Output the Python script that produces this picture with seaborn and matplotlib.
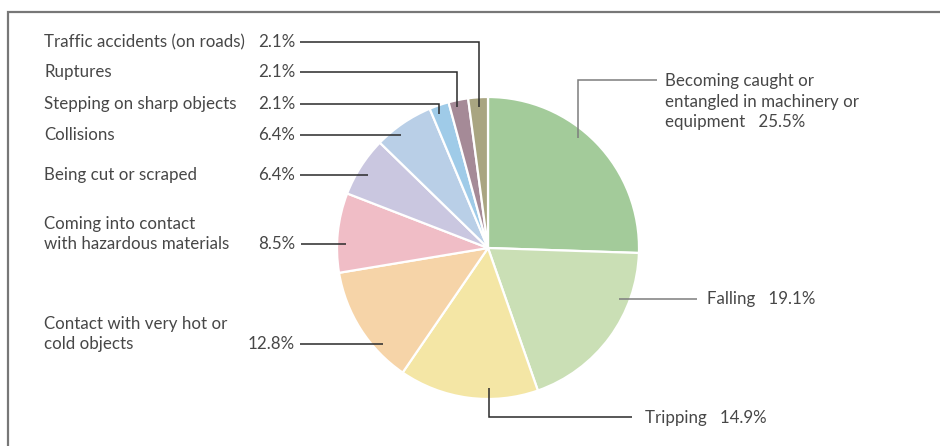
import matplotlib
matplotlib.use("Agg")
import matplotlib.pyplot as plt
import seaborn as sns

# Share of occupational accidents by type (%), clockwise from 12 o'clock
categories = [
    "Becoming caught or entangled in machinery or equipment",
    "Falling",
    "Tripping",
    "Contact with very hot or cold objects",
    "Coming into contact with hazardous materials",
    "Being cut or scraped",
    "Collisions",
    "Stepping on sharp objects",
    "Ruptures",
    "Traffic accidents (on roads)",
]
shares = [25.5, 19.1, 14.9, 12.8, 8.5, 6.4, 6.4, 2.1, 2.1, 2.1]
colors = ["#a3cb9a", "#cadfb5", "#f4e6a5", "#f6d4a8", "#f0bdc6",
          "#cac7e0", "#b9cfe7", "#9fcbe8", "#a58a97", "#a9a581"]

sns.set_theme(style="white")
plt.rcParams["font.family"] = ["Lato", "DejaVu Sans"]

W, H = 940, 446
fig = plt.figure(figsize=(W / 100, H / 100), dpi=100)
ax = fig.add_axes([0, 0, 1, 1])

# Pie in pixel-like coordinates (y grows downwards)
ax.pie(shares, colors=colors, startangle=270, counterclock=True,
       center=(488, 248), radius=151,
       wedgeprops=dict(edgecolor="white", linewidth=1.6))
ax.set_xlim(0, W)
ax.set_ylim(H, 0)
ax.set_aspect("equal")
ax.axis("off")

TXT = "#474747"
FS = 12.2
DARK = "#2a2a2a"
GREY = "#7d7d7d"
STYLE = dict(fontsize=FS, color=TXT, fontweight="normal")


def pct(v):
    return f"{v:.1f}%"


def leader(xs, ys, color=DARK):
    ax.plot(xs, ys, color=color, lw=1.1, solid_capstyle="butt",
            solid_joinstyle="miter")


# Left-hand labels: name at x=44, value right-aligned at x=295
left_rows = [
    (9, ["Traffic accidents (on roads)"], 42, [300, 479, 479], [42, 42, 107]),
    (8, ["Ruptures"], 72, [300, 457, 457], [72, 72, 107]),
    (7, ["Stepping on sharp objects"], 104, [300, 439, 439], [104, 104, 114]),
    (6, ["Collisions"], 135, [300, 401], [135, 135]),
    (5, ["Being cut or scraped"], 175, [300, 368], [175, 175]),
    (4, ["Coming into contact", "with hazardous materials"], 244, [301, 346], [244, 244]),
    (3, ["Contact with very hot or", "cold objects"], 344, [300, 383], [344, 344]),
]
for idx, lines, y, lx, ly in left_rows:
    n = len(lines)
    for k, line in enumerate(lines):
        ax.text(44, y - (n - 1 - k) * 20.5, line, ha="left", va="center",
                **STYLE)
    ax.text(295, y, pct(shares[idx]), ha="right", va="center", **STYLE)
    leader(lx, ly)

# Right-hand labels
for k, line in enumerate(["Becoming caught or", "entangled in machinery or",
                          f"equipment   {pct(shares[0])}"]):
    ax.text(665, 81 + k * 20.5, line, ha="left", va="center", **STYLE)
leader([578, 578, 657], [138, 80, 80], GREY)

ax.text(707, 299, f"Falling   {pct(shares[1])}", ha="left", va="center",
        **STYLE)
leader([619, 697], [299, 299], GREY)

ax.text(645, 418, f"Tripping   {pct(shares[2])}", ha="left", va="center",
        **STYLE)
leader([489, 489, 632], [388, 417, 417])

# Partial frame: left and top rules
ax.plot([8, 8, W], [H, 12, 12], color="#777777", lw=1.6,
        solid_joinstyle="miter", clip_on=False)

fig.savefig("out.png", dpi=100, facecolor="white")
